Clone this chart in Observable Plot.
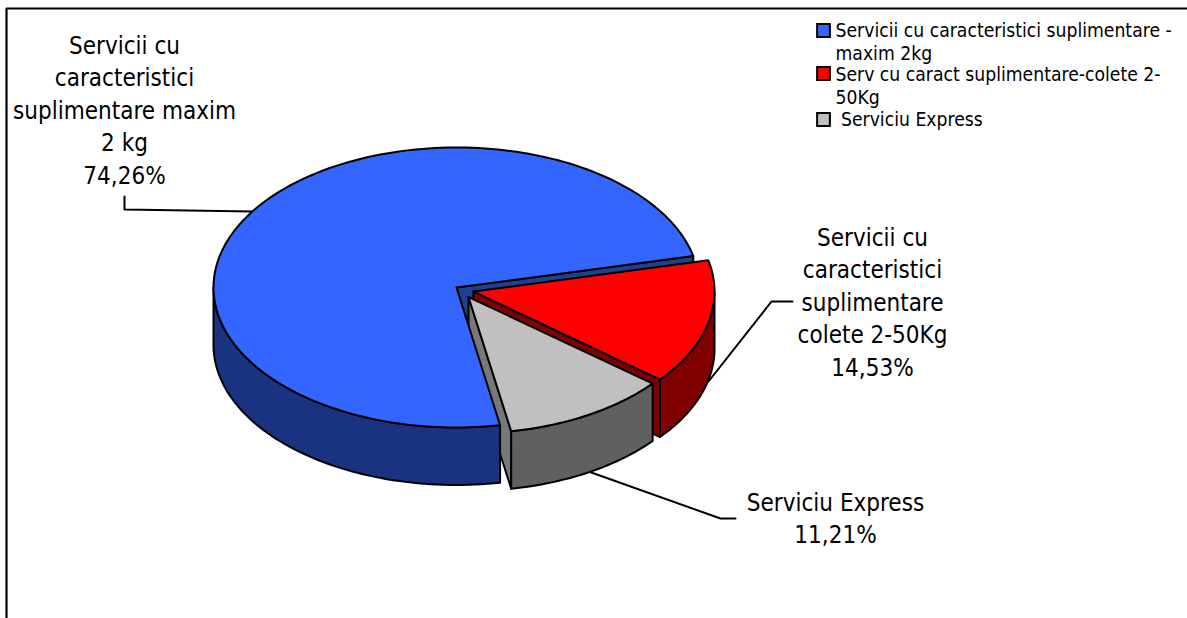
<!DOCTYPE html>
<html><head><meta charset="utf-8">
<script src="https://cdn.jsdelivr.net/npm/d3@7"></script>
<script src="https://cdn.jsdelivr.net/npm/@observablehq/plot@0.6"></script>
<style>html,body{margin:0;padding:0;background:#fff;overflow:hidden}</style>
</head><body><div id="chart"></div>
<script>
const categories = ["Servicii cu caracteristici suplimentare maxim 2 kg", "Servicii cu caracteristici suplimentare colete 2-50Kg", "Serviciu Express"];
const shares = [74.26, 14.53, 11.21];
const shareLabels = ["74,26%", "14,53%", "11,21%"];
const labelTexts = [
  "Servicii cu\ncaracteristici\nsuplimentare maxim\n2 kg\n74,26%",
  "Servicii cu\ncaracteristici\nsuplimentare\ncolete 2-50Kg\n14,53%",
  "Serviciu Express\n11,21%"
];
const legendTexts = ["Servicii cu caracteristici suplimentare -\nmaxim 2kg", "Serv cu caract suplimentare-colete 2-\n50Kg", " Serviciu Express"];
const topColors = ["#3366FF", "#FF0000", "#C0C0C0"];
const wallColors = ["#1A3380", "#800000", "#606060"];
const cutColors = ["#1F3F8F", "#800000", "#787878"];

// Layout of the tilted, exploded pie (pixel space of the frame)
const F = "'DejaVu Sans Condensed','DejaVu Sans',sans-serif";
const depth = 57.5, startDeg = 13;
const geom = [
  {cx: 456, cy: 287, rx: 243, ry: 140},
  {cx: 473, cy: 291, rx: 241, ry: 139},
  {cx: 468, cy: 296.5, rx: 238, ry: 136.5}
];
// Slice angles derive from the shares. Blue runs counter-clockwise from startDeg,
// red and grey run clockwise from it.
const a0 = startDeg;
const spans = shares.map(s => s / 100 * 360);
const ranges = [
  [a0, a0 + spans[0]],
  [a0, a0 - spans[1]],
  [a0 - spans[1], a0 - spans[1] - spans[2]]
];
const pt = (g, deg, dz = 0) => {
  const t = deg * Math.PI / 180;
  return {x: g.cx + g.rx * Math.cos(t), y: g.cy - g.ry * Math.sin(t) + dz};
};
const arc = (g, a, b, dz = 0) => {
  const n = Math.max(2, Math.ceil(Math.abs(b - a) / 1.5));
  return d3.range(n + 1).map(i => pt(g, a + (b - a) * i / n, dz));
};
const topFace = i => {
  const g = geom[i], [a, b] = ranges[i], c = {x: g.cx, y: g.cy};
  return [c, ...arc(g, a, b), c];
};
const outerWall = (i, a, b) => {
  const g = geom[i], up = arc(g, a, b), dn = arc(g, a, b, depth).reverse();
  return [...up, ...dn, up[0]];
};
const cutWall = (i, deg) => {
  const g = geom[i], c = {x: g.cx, y: g.cy}, e = pt(g, deg);
  return [c, e, {x: e.x, y: e.y + depth}, {x: c.x, y: c.y + depth}, c];
};
const poly = (pts, fill) => Plot.line(pts, {x: "x", y: "y", fill, stroke: "#000", strokeWidth: 2, strokeLinejoin: "round", curve: "linear"});
const lead = pts => Plot.line(pts, {x: "x", y: "y", stroke: "#000", strokeWidth: 2, curve: "linear"});

const labelPos = [{x: 124, y: 108}, {x: 872, y: 300}, {x: 835, y: 516}];
const labels = labelTexts.map((t, i) => ({t, ...labelPos[i]}));
const legendPos = [{x: 835, y: 40.5, sy: 30}, {x: 835, y: 85, sy: 73}, {x: 835, y: 118, sy: 119}];
const legend = legendTexts.map((t, i) => ({t, fill: topColors[i], ...legendPos[i]}));

const plot = Plot.plot({
  width: 1187, height: 618, margin: 0,
  style: {background: "#fff", overflow: "hidden"},
  x: {domain: [0, 1187], range: [0, 1187], axis: null},
  y: {domain: [0, 618], range: [0, 618], axis: null},
  marks: [
    // frame
    Plot.line([{x: 6, y: 618}, {x: 6, y: 8}, {x: 1187, y: 8}], {x: "x", y: "y", stroke: "#000", strokeWidth: 2.2, curve: "linear"}),
    // leaders
    lead([{x: 124, y: 196}, {x: 124, y: 209}, {x: 252, y: 211}]),
    lead([{x: 792, y: 301}, {x: 771, y: 301}, {x: 708, y: 381}]),
    lead([{x: 735, y: 518}, {x: 720, y: 518}, {x: 588, y: 471}]),
    // back cut walls
    poly(cutWall(0, ranges[0][0]), cutColors[0]),
    poly(cutWall(1, ranges[1][1]), cutColors[1]),
    poly(cutWall(2, ranges[2][1]), cutColors[2]),
    // blue
    poly(outerWall(0, 180, ranges[0][1]), wallColors[0]),
    poly(topFace(0), topColors[0]),
    // red
    poly(outerWall(1, ranges[1][1], 0), wallColors[1]),
    poly(topFace(1), topColors[1]),
    // grey
    poly(outerWall(2, ranges[2][1], ranges[2][0]), wallColors[2]),
    poly(topFace(2), topColors[2]),
    // data labels
    Plot.text(labels, {x: "x", y: "y", text: "t", fontFamily: F, fontSize: 24, lineHeight: 1.355, fill: "#000", textAnchor: "middle"}),
    // legend
    Plot.dot(legend, {x: () => 823, y: "sy", symbol: "square", r: 7.2, fill: "fill", stroke: "#000", strokeWidth: 2}),
    Plot.text(legend, {x: "x", y: "y", text: "t", fontFamily: F, fontSize: 19.2, lineHeight: 1.2, fill: "#000", textAnchor: "start"})
  ]
});
document.getElementById("chart").appendChild(plot);
</script></body></html>
